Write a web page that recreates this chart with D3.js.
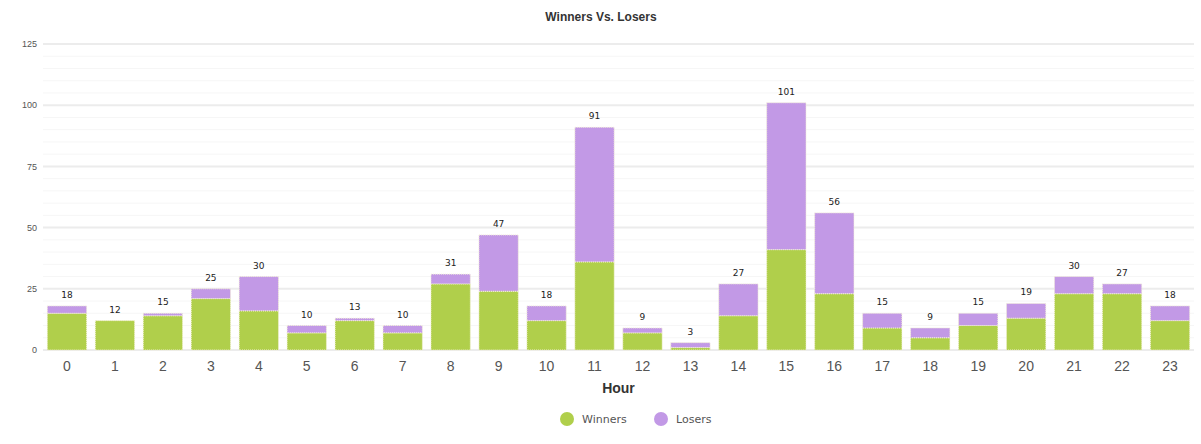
<!DOCTYPE html>
<html>
<head>
<meta charset="utf-8">
<script src="https://cdn.jsdelivr.net/npm/d3@7"></script>
<style>
    body { margin: 0; background: #fff; font-family: "Liberation Sans", Arial, sans-serif; }
</style>
</head>
<body>
<div id="chart"></div>
<script>
var hours = d3.range(24).map(String);
var winners = [15, 12, 14, 21, 16, 7, 12, 7, 27, 24, 12, 36, 7, 1, 14, 41, 23, 9, 5, 10, 13, 23, 23, 12];
var losers  = [3, 0, 1, 4, 14, 3, 1, 3, 4, 23, 6, 55, 2, 2, 13, 60, 33, 6, 4, 5, 6, 7, 4, 6];
var yTicks = [0, 25, 50, 75, 100, 125];
var seriesNames = ['Winners', 'Losers'];
var seriesColors = ['#b0cf4b', '#c299e6'];

var W = 1201, H = 444;
var margin = {top: 44, right: 7, bottom: 94, left: 43},
    width = W - margin.left - margin.right,
    height = H - margin.top - margin.bottom;

var svg = d3.select('#chart').append('svg')
    .attr('width', W)
    .attr('height', H);

var g = svg.append('g')
    .attr('transform', 'translate(' + margin.left + ',' + margin.top + ')');

var x = d3.scaleBand()
    .domain(hours)
    .range([0, width])
    .paddingInner(0.18)
    .paddingOuter(0.09);

var y = d3.scaleLinear()
    .domain([0, 125])
    .range([height, 0]);

// minor grid
g.append('g').selectAll('line')
    .data(d3.range(5, 125, 5).filter(function (d) { return d % 25 !== 0; }))
    .enter().append('line')
    .attr('x1', 0).attr('x2', width)
    .attr('y1', function (d) { return y(d); })
    .attr('y2', function (d) { return y(d); })
    .style('stroke', '#f6f6f6')
    .style('stroke-width', 1);

// major grid
g.append('g').selectAll('line')
    .data(yTicks)
    .enter().append('line')
    .attr('x1', 0).attr('x2', width)
    .attr('y1', function (d) { return y(d); })
    .attr('y2', function (d) { return y(d); })
    .style('stroke', '#ececec')
    .style('stroke-width', 2);

// y labels
g.append('g').selectAll('text')
    .data(yTicks)
    .enter().append('text')
    .attr('x', -6)
    .attr('y', function (d) { return y(d); })
    .attr('dy', '.35em')
    .attr('text-anchor', 'end')
    .style('font-size', '9px')
    .style('fill', '#555')
    .text(function (d) { return d; });

// stacked bars
var rows = hours.map(function (h, i) {
    return {hour: h, Winners: winners[i], Losers: losers[i]};
});
var stacked = d3.stack().keys(seriesNames)(rows);

g.selectAll('.series')
    .data(stacked)
    .enter().append('g')
    .attr('class', 'series')
    .style('fill', function (d, i) { return seriesColors[i]; })
    .selectAll('rect')
    .data(function (d) { return d; })
    .enter().append('rect')
    .filter(function (d) { return d[1] > d[0]; })
    .attr('x', function (d) { return x(d.data.hour); })
    .attr('width', x.bandwidth())
    .attr('y', function (d) { return y(d[1]); })
    .attr('height', function (d) { return y(d[0]) - y(d[1]); })
    .style('stroke', '#f4f0d8')
    .style('stroke-width', 1)
    .style('stroke-dasharray', '1,1');

// totals
g.append('g').selectAll('text')
    .data(rows)
    .enter().append('text')
    .attr('x', function (d) { return x(d.hour) + x.bandwidth() / 2; })
    .attr('y', function (d) { return y(d.Winners + d.Losers) - 8; })
    .attr('text-anchor', 'middle')
    .style('font-family', '"DejaVu Sans", sans-serif')
    .style('font-size', '9px')
    .style('fill', '#222')
    .text(function (d) { return d.Winners + d.Losers; });

// x labels
g.append('g').selectAll('text')
    .data(hours)
    .enter().append('text')
    .attr('x', function (d) { return x(d) + x.bandwidth() / 2; })
    .attr('y', height + 21)
    .attr('text-anchor', 'middle')
    .style('font-size', '14px')
    .style('fill', '#555')
    .text(function (d) { return d; });

g.append('text')
    .attr('x', width / 2)
    .attr('y', height + 43)
    .attr('text-anchor', 'middle')
    .style('font-size', '14px')
    .style('font-weight', 'bold')
    .style('fill', '#333')
    .text('Hour');

// title
svg.append('text')
    .attr('x', 601)
    .attr('y', 21)
    .attr('text-anchor', 'middle')
    .style('font-size', '12px')
    .style('font-weight', 'bold')
    .style('fill', '#333')
    .text('Winners Vs. Losers');

// legend
var legend = svg.append('g')
    .attr('transform', 'translate(567,419)');
var item = legend.selectAll('g')
    .data(seriesNames)
    .enter().append('g')
    .attr('transform', function (d, i) { return 'translate(' + (i * 94) + ',0)'; });
item.append('circle')
    .attr('r', 7)
    .style('fill', function (d, i) { return seriesColors[i]; });
item.append('text')
    .attr('x', 15)
    .attr('dy', '.35em')
    .style('font-family', '"DejaVu Sans", sans-serif')
    .style('font-size', '11px')
    .style('fill', '#555')
    .text(function (d) { return d; });
</script>
</body>
</html>
